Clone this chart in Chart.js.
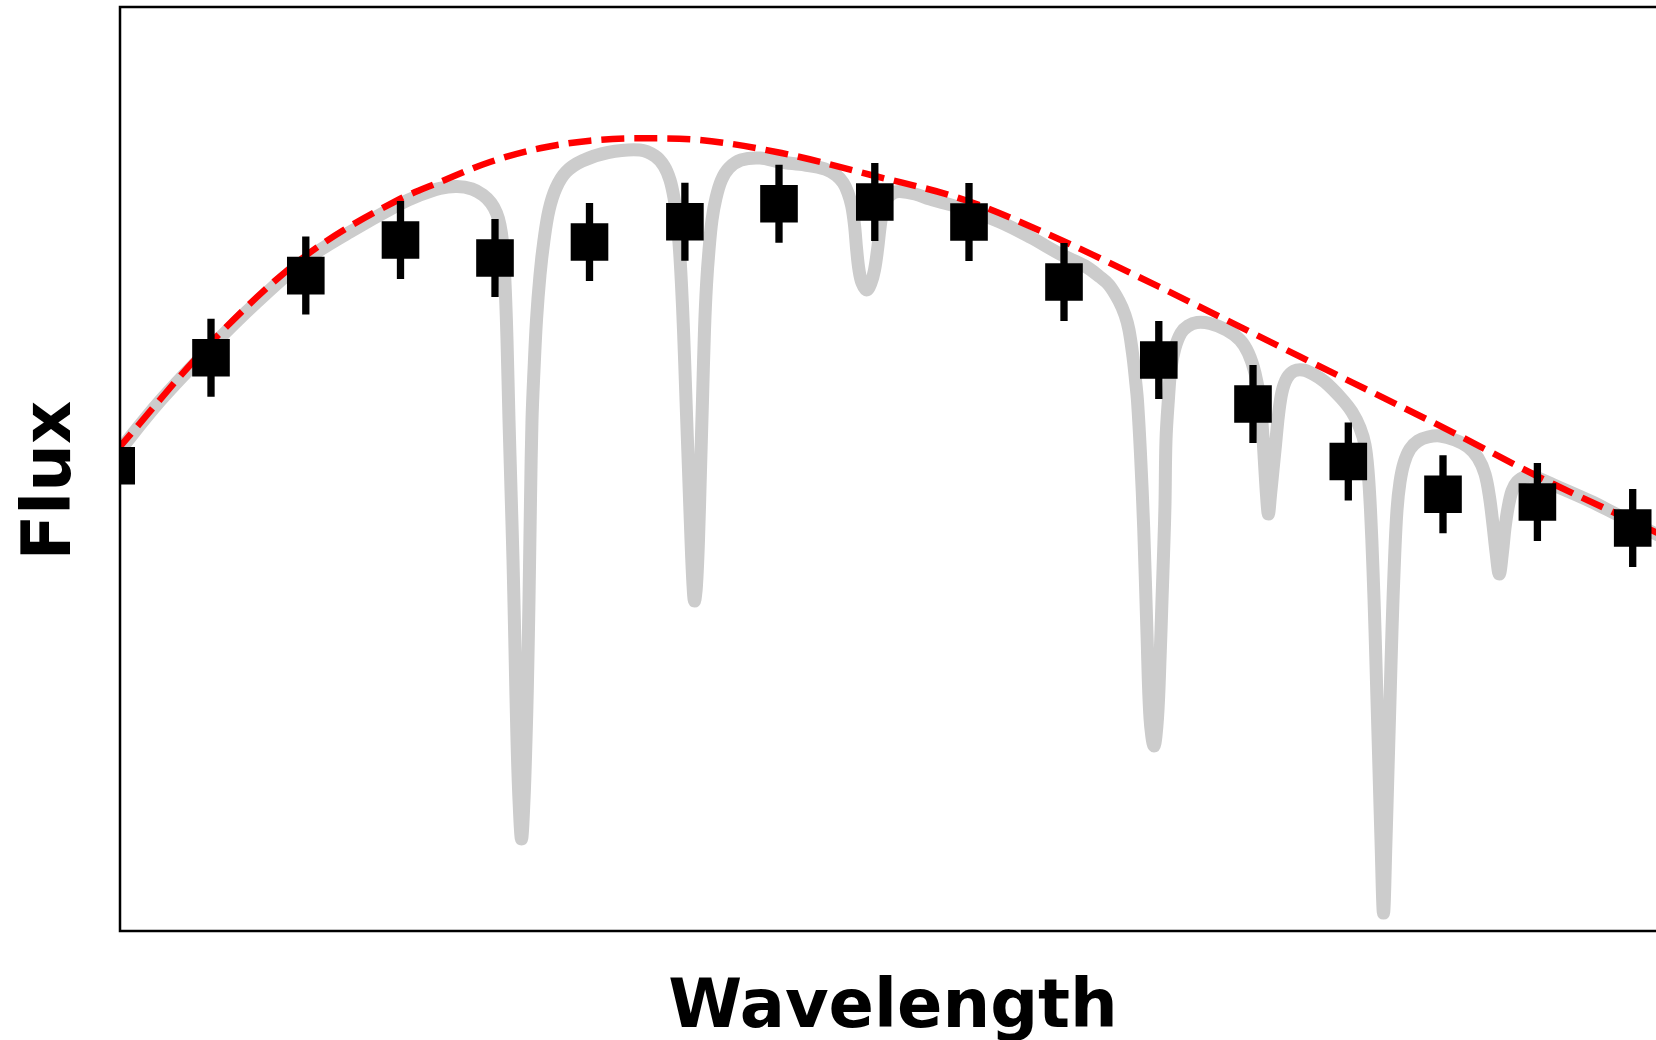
<!DOCTYPE html>
<html>
<head>
<meta charset="utf-8">
<title>Flux vs Wavelength</title>
<script src="https://cdn.jsdelivr.net/npm/chart.js@4.4.1/dist/chart.umd.min.js"></script>
<style>
    html, body { margin: 0; padding: 0; background: #fff; overflow: hidden; }
    canvas { display: block; }
</style>
</head>
<body>
<canvas id="chart" width="1680" height="1040"></canvas>
<script>
// Axis range (arbitrary units, the original has no tick labels)
const X_MIN = 0.120;
const X_MAX = 1.666;
const Y_MIN = 0;
const Y_MAX = 0.924;

// Observed photometry (black squares) with error bars
const pointX = [0.1162, 0.2110, 0.3058, 0.4005, 0.4950, 0.5895, 0.6849, 0.7790, 0.8748,
    0.9690, 1.0640, 1.1588, 1.2530, 1.3483, 1.4430, 1.5374, 1.6327];
const pointFlux = [0.4652, 0.5733, 0.6554, 0.6910, 0.6730, 0.6890, 0.7092, 0.7273, 0.7290,
    0.7090, 0.6490, 0.5710, 0.5270, 0.4695, 0.4367, 0.4290, 0.4030];
const pointErr = [0.039, 0.039, 0.039, 0.039, 0.039, 0.039, 0.039, 0.039, 0.039,
    0.039, 0.039, 0.039, 0.039, 0.039, 0.039, 0.039, 0.039];

// Continuum (red dashed)
const contX = [0.1162, 0.2105, 0.304, 0.398, 0.440, 0.490, 0.540, 0.590, 0.645, 0.700,
    0.7815, 0.875, 0.965, 1.062, 1.100, 1.1588, 1.300, 1.456, 1.537, 1.632, 1.666];
const contFlux = [0.480, 0.588, 0.674, 0.731, 0.749, 0.769, 0.7827, 0.7903, 0.7927, 0.791,
    0.778, 0.755, 0.731, 0.6905, 0.6727, 0.6443, 0.5743, 0.497, 0.455, 0.410, 0.394];

// Model spectrum with absorption lines (grey)
const modelX = [
    0.116, 0.160, 0.211, 0.257, 0.304, 0.350, 0.398, 0.420, 0.440, 0.457,
    0.472, 0.483, 0.491, 0.4965, 0.500, 0.5025, 0.5043, 0.5057, 0.507, 0.509,
    0.511, 0.513, 0.515, 0.517, 0.519, 0.5215, 0.524, 0.526, 0.5273, 0.529,
    0.5305, 0.532, 0.534, 0.5365, 0.540, 0.544, 0.549, 0.556, 0.566, 0.582,
    0.608, 0.640, 0.655, 0.664, 0.670, 0.674, 0.677, 0.6795, 0.6815, 0.6835,
    0.686, 0.6885, 0.691, 0.693, 0.6945, 0.6965, 0.6985, 0.7005, 0.7025, 0.7045,
    0.7065, 0.709, 0.712, 0.716, 0.7215, 0.729, 0.741, 0.760, 0.780, 0.805,
    0.825, 0.836, 0.8433, 0.848, 0.8517, 0.8545, 0.8567, 0.859, 0.862, 0.8667,
    0.871, 0.8745, 0.8775, 0.880, 0.8825, 0.8867, 0.893, 0.900, 0.915, 0.930,
    0.968, 1.000, 1.030, 1.062, 1.085, 1.100, 1.109, 1.119, 1.125, 1.129,
    1.133, 1.1355, 1.1375, 1.1405, 1.1437, 1.147, 1.150, 1.154, 1.1575, 1.160,
    1.162, 1.164, 1.165, 1.166, 1.1685, 1.171, 1.175, 1.181, 1.188, 1.197,
    1.210, 1.2267, 1.240, 1.2483, 1.255, 1.260, 1.2625, 1.2645, 1.2665, 1.2684,
    1.2705, 1.273, 1.2755, 1.2785, 1.282, 1.287, 1.294, 1.303, 1.313, 1.325,
    1.341, 1.352, 1.360, 1.365, 1.368, 1.3705, 1.373, 1.375, 1.377, 1.379,
    1.381, 1.3835, 1.386, 1.388, 1.390, 1.392, 1.3945, 1.397, 1.400, 1.404,
    1.410, 1.418, 1.428, 1.440, 1.455, 1.468, 1.478, 1.485, 1.4895, 1.493,
    1.496, 1.4993, 1.5025, 1.505, 1.508, 1.512, 1.517, 1.525, 1.535, 1.556,
    1.590, 1.616, 1.640, 1.666
];
const modelFlux = [
    0.476, 0.530, 0.584, 0.629, 0.670, 0.699, 0.726, 0.736, 0.7427, 0.7445,
    0.742, 0.736, 0.728, 0.718, 0.706, 0.689, 0.663, 0.631, 0.591, 0.511,
    0.441, 0.371, 0.281, 0.191, 0.131, 0.092, 0.131, 0.191, 0.241, 0.331,
    0.431, 0.511, 0.561, 0.611, 0.656, 0.691, 0.721, 0.743, 0.759, 0.770,
    0.7785, 0.781, 0.775, 0.765, 0.751, 0.733, 0.711, 0.681, 0.646, 0.601,
    0.531, 0.461, 0.391, 0.346, 0.330, 0.346, 0.391, 0.461, 0.531, 0.601,
    0.646, 0.681, 0.711, 0.733, 0.751, 0.763, 0.771, 0.773, 0.769, 0.766,
    0.762, 0.756, 0.748, 0.738, 0.725, 0.706, 0.681, 0.661, 0.648, 0.641,
    0.648, 0.661, 0.681, 0.703, 0.719, 0.732, 0.738, 0.7395, 0.737, 0.732,
    0.721, 0.709, 0.694, 0.676, 0.665, 0.654, 0.646, 0.630, 0.616, 0.601,
    0.574, 0.551, 0.530, 0.477, 0.403, 0.297, 0.213, 0.185, 0.213, 0.271,
    0.331, 0.391, 0.427, 0.491, 0.533, 0.563, 0.583, 0.598, 0.605, 0.6085,
    0.6075, 0.601, 0.591, 0.578, 0.558, 0.531, 0.501, 0.468, 0.436, 0.417,
    0.436, 0.461, 0.486, 0.516, 0.539, 0.553, 0.560, 0.561, 0.557, 0.549,
    0.533, 0.519, 0.503, 0.486, 0.461, 0.421, 0.361, 0.301, 0.231, 0.161,
    0.091, 0.018, 0.091, 0.161, 0.231, 0.301, 0.371, 0.421, 0.449, 0.468,
    0.482, 0.490, 0.494, 0.495, 0.491, 0.484, 0.473, 0.457, 0.434, 0.406,
    0.379, 0.357, 0.379, 0.403, 0.423, 0.440, 0.449, 0.454, 0.454, 0.445,
    0.430, 0.417, 0.405, 0.392
];

const labelFont = { family: 'DejaVu Sans', weight: 'bold', size: 67, lineHeight: 0.85 };

const toXY = (xs, ys) => xs.map((x, i) => ({ x: x, y: ys[i] }));

// Each error bar is a two-point segment, broken from the next by a null
const errorBars = [];
pointX.forEach((x, i) => {
    errorBars.push({ x: x, y: pointFlux[i] - pointErr[i] });
    errorBars.push({ x: x, y: pointFlux[i] + pointErr[i] });
    errorBars.push({ x: x, y: null });
});

// Axes frame drawn on top like matplotlib spines
const frame = {
    id: 'frame',
    afterDatasetsDraw (chart) {
        const { ctx, chartArea: a } = chart;
        ctx.save();
        ctx.strokeStyle = '#000';
        ctx.lineWidth = 2.5;
        ctx.strokeRect(a.left, a.top, a.right - a.left, a.bottom - a.top);
        ctx.restore();
    }
};

new Chart(document.getElementById('chart'), {
    type: 'line',
    data: {
        datasets: [
            {
                label: 'Model',
                data: toXY(modelX, modelFlux),
                borderColor: '#cccccc',
                borderWidth: 13,
                borderJoinStyle: 'round',
                borderCapStyle: 'round',
                tension: 0.35,
                pointRadius: 0,
                clip: 0,
                order: 4
            },
            {
                label: 'Continuum',
                data: toXY(contX, contFlux),
                borderColor: '#ff0000',
                borderWidth: 6.5,
                borderDash: [23, 10],
                borderCapStyle: 'butt',
                cubicInterpolationMode: 'monotone',
                pointRadius: 0,
                clip: 0,
                order: 3
            },
            {
                label: 'Errors',
                data: errorBars,
                borderColor: '#000',
                borderWidth: 7.3,
                borderCapStyle: 'butt',
                spanGaps: false,
                tension: 0,
                pointRadius: 0,
                clip: 0,
                order: 2
            },
            {
                label: 'Data',
                data: toXY(pointX, pointFlux),
                showLine: false,
                pointStyle: 'rect',
                pointRadius: 26.6,
                pointBorderWidth: 0,
                pointBackgroundColor: '#000',
                clip: 0,
                order: 1
            }
        ]
    },
    options: {
        responsive: false,
        animation: false,
        events: [],
        layout: {
            autoPadding: false,
            padding: { left: 0, top: 7, right: 14, bottom: 0 }
        },
        plugins: {
            legend: { display: false },
            tooltip: { enabled: false }
        },
        scales: {
            x: {
                type: 'linear',
                min: X_MIN,
                max: X_MAX,
                grid: { display: false },
                ticks: { display: false },
                border: { display: false },
                title: {
                    display: true,
                    text: 'Wavelength',
                    color: '#000',
                    font: labelFont,
                    padding: { top: 0, bottom: 2 }
                },
                afterFit: scale => { scale.height = 109; }
            },
            y: {
                type: 'linear',
                min: Y_MIN,
                max: Y_MAX,
                grid: { display: false },
                ticks: { display: false },
                border: { display: false },
                title: {
                    display: true,
                    // trailing space nudges the rotated label down a little, as in the original
                    text: 'Flux ',
                    color: '#000',
                    font: labelFont,
                    padding: { top: 24, bottom: 0 }
                },
                afterFit: scale => { scale.width = 120; }
            }
        }
    },
    plugins: [frame]
});
</script>
</body>
</html>
